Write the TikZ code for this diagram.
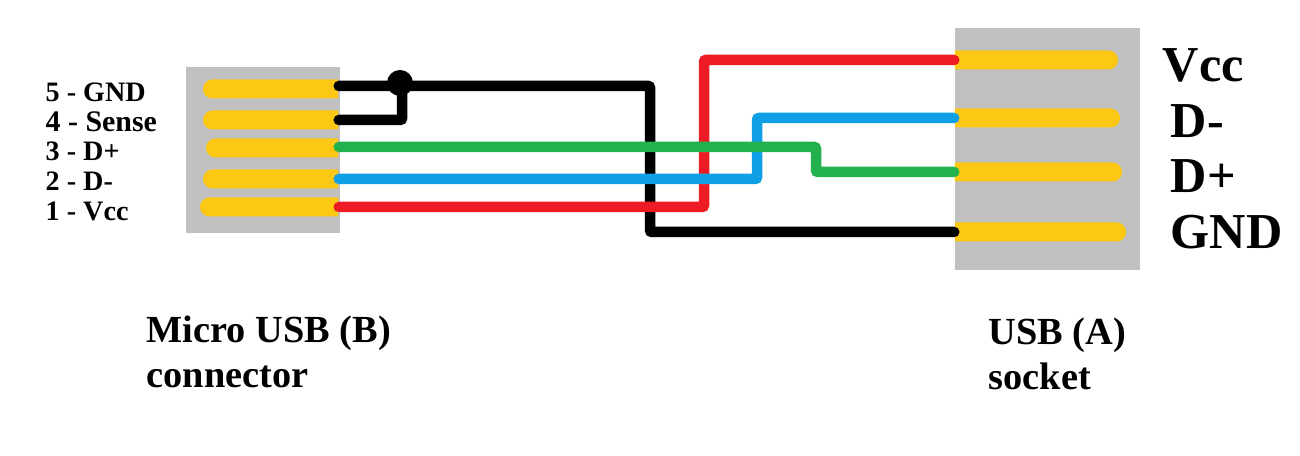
\documentclass[tikz,border=0pt]{standalone}
\usepackage{fontspec}
\setmainfont{Liberation Serif}
\usetikzlibrary{shapes.misc}
\definecolor{padgrey}{HTML}{C0C0C0}
\definecolor{padyellow}{HTML}{FDC814}
\definecolor{wirered}{HTML}{ED1C24}
\definecolor{wiregreen}{HTML}{22B14C}
\definecolor{wireblue}{HTML}{0F9FE6}
\tikzset{
    body/.style={fill=padgrey, inner sep=0pt, minimum width=#1},
    lpad/.style={rounded rectangle, rounded rectangle east arc=none, fill=padyellow, inner sep=0pt, minimum height=.19cm, minimum width=#1},
    rpad/.style={rounded rectangle, rounded rectangle west arc=none, fill=padyellow, inner sep=0pt, minimum height=.19cm, minimum width=#1},
    wire/.style={line width=.105cm, line cap=round, rounded corners=.02cm},
    pinlabel/.style={anchor=west, inner sep=0pt, font=\fontsize{8}{9.6}\selectfont\bfseries},
    sidelabel/.style={anchor=west, inner sep=0pt, font=\fontsize{14.3}{17}\selectfont\bfseries},
    title/.style={anchor=north west, align=left, inner sep=0pt, font=\fontsize{10.9}{12.8}\selectfont\bfseries}
}
\begin{document}
\begin{tikzpicture}[x=.01cm, y=-.01cm]
    \useasboundingbox (0,0) rectangle (1300,456);

    % Grey connector bodies
    \node[body=1.53cm, minimum height=1.66cm] (microbody) at (263,150) {};
    \node[body=1.85cm, minimum height=2.42cm] (usbbody) at (1047.5,149) {};

    % Pads of the micro USB connector
    \node[lpad=1.35cm] (mgnd) at (270.5,89) {};
    \node[lpad=1.35cm] (msense) at (270.5,120) {};
    \node[lpad=1.32cm] (mdplus) at (272,148) {};
    \node[lpad=1.35cm] (mdminus) at (270.5,179) {};
    \node[lpad=1.38cm] (mvcc) at (269,207) {};

    % Pads of the USB socket
    \node[rpad=1.63cm] (uvcc) at (1036.5,60) {};
    \node[rpad=1.65cm] (udminus) at (1037.5,118) {};
    \node[rpad=1.67cm] (udplus) at (1038.5,172) {};
    \node[rpad=1.71cm] (ugnd) at (1040.5,232) {};

    % Corners of the wires
    \coordinate (gndbend) at (650,232);
    \coordinate (sensebend) at (402,86);
    \coordinate (vccbend) at (704,60);
    \coordinate (dminusbend) at (757,118);
    \coordinate (dplusbend) at (816,172);

    % Draw the wires
    \draw[wire, black] ([yshift=.03cm]mgnd.east) -| (gndbend) -- (ugnd.west);
    \draw[wire, black] (msense.east) -| (sensebend);
    \draw[wire, wirered] (mvcc.east) -| (vccbend) -- (uvcc.west);
    \draw[wire, wireblue] (mdminus.east) -| (dminusbend) -- (udminus.west);
    \draw[wire, wiregreen] ([yshift=.01cm]mdplus.east) -| (dplusbend) -- (udplus.west);
    \fill[black] (400,83) circle (13);

    % Labels of the pins
    \node[pinlabel] (lgnd) at (45,92) {5 - GND};
    \node[pinlabel, font=\fontsize{8.5}{9.6}\selectfont\bfseries] (lsense) at (45,122) {4 - Sense};
    \node[pinlabel] (ldplus) at (45,151) {3 - D+};
    \node[pinlabel] (ldminus) at (45,181) {2 - D-};
    \node[pinlabel] (lvcc) at (45,211) {1 - Vcc};

    % Labels of the socket
    \node[sidelabel] (svcc) at (1162,65) {Vcc};
    \node[sidelabel] (sdminus) at (1170,121) {D-};
    \node[sidelabel] (sdplus) at (1170,176) {D+};
    \node[sidelabel] (sgnd) at (1170,232) {GND};

    % Titles
    \node[title] (microtitle) at (146,315) {Micro USB (B)\\connector};
    \node[title] (usbtitle) at (988,317) {USB (A)\\socket};

\end{tikzpicture}
\end{document}
